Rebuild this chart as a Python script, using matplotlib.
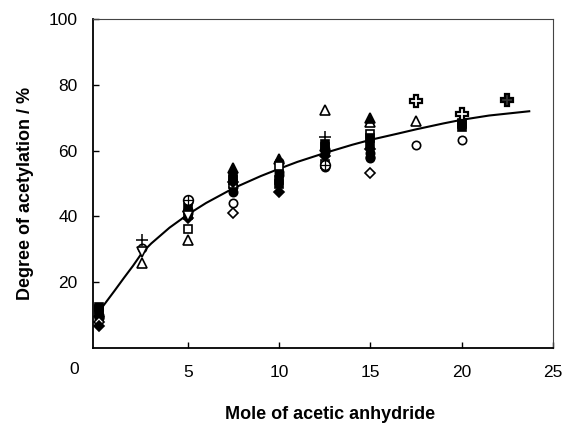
import matplotlib
matplotlib.use("Agg")
import matplotlib.pyplot as plt

plt.rcParams['font.family'] = ['Liberation Sans', 'DejaVu Sans']

# mole of acetic anhydride (sample columns)
xs = [0.15, 2.5, 5, 7.5, 10, 12.5, 15, 17.5, 20, 22.5]

# degree of acetylation for each sample series (None = not measured)
open_circle = [9.5, 30.4, 44.5, 44.0, 56.6, 55.0, 58.0, 61.7, 63.2, None]
filled_circle = [10.0, None, 41.0, 47.5, 52.5, 60.5, 57.8, None, None, None]
filled_circle2 = [9.0, None, 42.0, 49.0, 53.5, 59.5, 59.2, None, None, None]
open_triangle = [None, 26.0, 33.0, None, None, 72.3, 68.8, 69.0, None, None]
filled_triangle = [11.0, None, 43.0, 54.6, 57.4, 61.5, 69.8, None, None, None]
open_square = [12.0, None, 36.3, 50.0, 55.5, 56.0, 65.2, None, 68.5, None]
filled_square = [12.5, None, 42.5, 52.0, 51.0, 62.0, 64.0, None, 67.2, None]
filled_square2 = [11.5, None, 40.5, 51.0, 50.0, 61.0, 62.0, None, 68.0, None]
open_diamond = [8.0, None, None, 41.0, None, None, 53.2, None, None, None]
filled_diamond = [6.6, None, 39.5, 50.5, 47.5, 58.5, 60.5, None, None, None]
open_vtriangle = [None, 29.2, 40.0, None, None, None, None, None, None, None]
plus = [None, 33.0, None, None, None, 64.2, None, None, None, None]
open_cross = [None, None, None, None, None, None, None, 75.0, 71.3, None]
dark_cross = [None, None, None, None, None, None, None, None, None, 75.4]
circle_plus = [None, None, 45.0, None, None, 55.6, None, None, None, None]

# fitted curve
curve_x = [0.3, 1, 1.5, 2, 2.5, 3, 4, 5, 6, 7.5, 9, 10, 11, 12.5, 14, 15,
           16.5, 17.5, 19, 20, 21.5, 23.7]
curve_y = [12.3, 17.5, 21.3, 25.0, 29.0, 31.8, 36.6, 40.6, 44.1, 48.6, 52.3,
           54.5, 56.6, 59.3, 61.8, 63.3, 65.2, 66.5, 68.3, 69.4, 70.7, 72.0]


def pick(vals):
    px = [x for x, v in zip(xs, vals) if v is not None]
    py = [v for v in vals if v is not None]
    return px, py


fig = plt.figure(figsize=(5.66, 4.26), dpi=100)
ax = fig.add_axes([0.164, 0.183, 0.813, 0.772])

ax.plot(curve_x, curve_y, color='black', lw=1.5, zorder=3)

ms = 6
series = [
    (open_circle, 'o', 'white', ms),
    (filled_circle, 'o', 'black', ms),
    (filled_circle2, 'o', 'black', ms),
    (open_triangle, '^', 'white', ms + 1),
    (filled_triangle, '^', 'black', ms + 1),
    (open_square, 's', 'white', ms - 0.5),
    (filled_square, 's', 'black', ms - 0.5),
    (filled_square2, 's', 'black', ms - 0.5),
    (open_diamond, 'D', 'white', ms - 1),
    (filled_diamond, 'D', 'black', ms - 1),
    (open_vtriangle, 'v', 'white', ms + 1),
]
for vals, mk, fc, size in series:
    px, py = pick(vals)
    ax.plot(px, py, ls='none', marker=mk, ms=size, mfc=fc, mec='black',
            mew=1.2, zorder=4)

px, py = pick(plus)
ax.plot(px, py, ls='none', marker='+', ms=8, mec='black', mew=1.1, zorder=4)
px, py = pick(open_cross)
ax.plot(px, py, ls='none', marker='P', ms=8, mfc='white', mec='black',
        mew=1.6, zorder=4)
px, py = pick(dark_cross)
ax.plot(px, py, ls='none', marker='P', ms=8, mfc='#333333', mec='black',
        mew=1.6, zorder=4)
px, py = pick(circle_plus)
ax.plot(px, py, ls='none', marker='o', ms=ms + 1, mfc='white', mec='black',
        mew=1.2, zorder=4)
ax.plot(px, py, ls='none', marker='+', ms=ms + 1, mec='black', mew=0.9,
        zorder=5)

ax.set_xlim(-0.2, 25)
ax.set_ylim(0, 100)
ax.set_xticks([5, 10, 15, 20, 25])
ax.set_yticks([20, 40, 60, 80, 100])
ax.tick_params(direction='in', length=4, width=1, labelsize=12.5, pad=11)
ax.tick_params(axis='x', pad=12)
for side in ['left', 'bottom']:
    ax.spines[side].set_linewidth(1.3)
for side in ['top', 'right']:
    ax.spines[side].set_linewidth(0.8)
    ax.spines[side].set_color('#444444')

ax.text(-0.04, -0.065, '0', transform=ax.transAxes, fontsize=12.5,
        ha='center', va='center')

ax.set_xlabel('Mole of acetic anhydride', fontsize=13, fontweight='bold')
ax.xaxis.set_label_coords(0.515, -0.175)
ax.set_ylabel('Degree of acetylation / %', fontsize=13, fontweight='bold')
ax.yaxis.set_label_coords(-0.128, 0.47)

fig.savefig('out.png', dpi=100)
